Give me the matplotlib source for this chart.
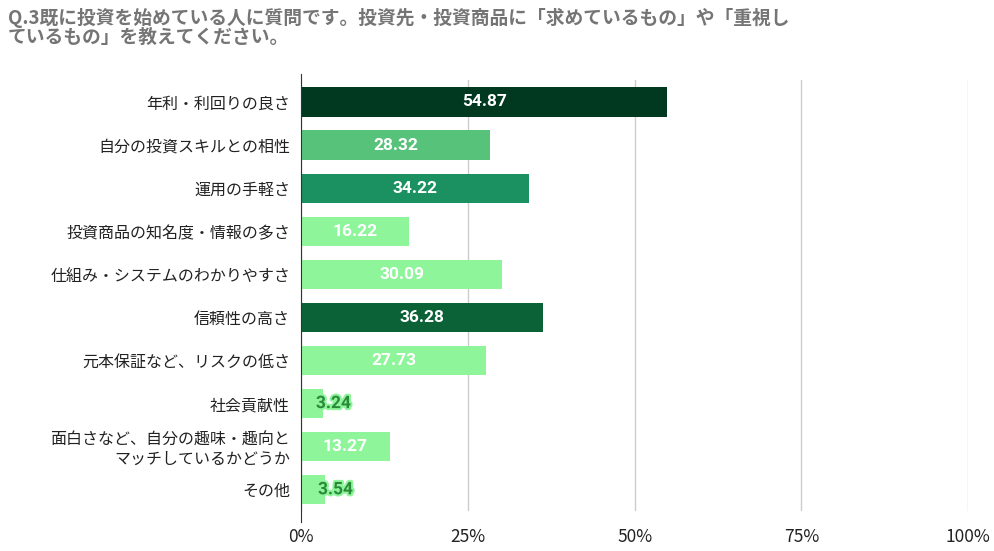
import matplotlib.pyplot as plt
import matplotlib.patheffects as pe

plt.rcParams['font.family'] = 'Noto Sans CJK JP'

# ─── data ───
categories = [
    '年利・利回りの良さ',
    '自分の投資スキルとの相性',
    '運用の手軽さ',
    '投資商品の知名度・情報の多さ',
    '仕組み・システムのわかりやすさ',
    '信頼性の高さ',
    '元本保証など、リスクの低さ',
    '社会貢献性',
    '面白さなど、自分の趣味・趣向と\nマッチしているかどうか',
    'その他',
]
values = [54.87, 28.32, 34.22, 16.22, 30.09, 36.28, 27.73, 3.24, 13.27, 3.54]
colors = ['#003820', '#57c27a', '#1b9060', '#8ef59b', '#8ef59b',
          '#0b6236', '#8ef59b', '#8ef59b', '#8ef59b', '#8ef59b']
ticks = [0, 25, 50, 75, 100]
tick_labels = ['0%', '25%', '50%', '75%', '100%']

fig = plt.figure(figsize=(9.94, 5.51), dpi=100)
ax = fig.add_axes([0.303, 0.072, 0.671, 0.782])

y = list(range(len(categories)))
ax.barh(y, values, height=0.68, color=colors, zorder=3)
ax.set_ylim(len(categories) - 0.5, -0.5)
ax.set_xlim(0, 100)
ax.set_yticks(y)
ax.set_yticklabels(categories, fontsize=11.5, color='#222222')
ax.set_xticks(ticks)
ax.set_xticklabels(tick_labels, fontsize=12.5, color='#222222')
ax.tick_params(length=0, pad=8)
ax.tick_params(axis='x', pad=12)
ax.grid(axis='x', color='#cccccc', linewidth=1, zorder=0)
for s in ['top', 'right', 'bottom']:
    ax.spines[s].set_visible(False)
ax.spines['left'].set_color('#333333')
ax.spines['left'].set_zorder(4)
ax.spines['left'].set_bounds(-0.5 - 0.15, len(categories) - 0.5 + 0.25)

for yi, v, c in zip(y, values, colors):
    if v > 8:
        ax.text(v / 2, yi, f'{v:.2f}', ha='center', va='center', color='white',
                fontsize=12.5, fontweight='bold', fontfamily='Roboto', zorder=5)
    else:
        t = ax.text(v + 1.6, yi, f'{v:.2f}', ha='center', va='center', color='#2a8a3a',
                    fontsize=12.5, fontweight='bold', fontfamily='Roboto', zorder=5)
        t.set_path_effects([pe.withStroke(linewidth=3, foreground='#8ef59b')])

fig.text(0.008, 0.985, 'Q.3既に投資を始めている人に質問です。投資先・投資商品に「求めているもの」や「重視し\nているもの」を教えてください。',
         ha='left', va='top', fontsize=13.5, fontweight='bold', color='#757575', linespacing=1.0)

fig.savefig('out.png', dpi=100)
